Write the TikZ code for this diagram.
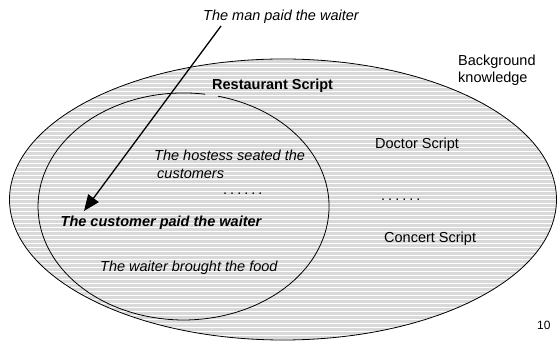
\documentclass[tikz,border=0pt]{standalone}
\usepackage{fontspec}
\setmainfont{Liberation Sans}
\usetikzlibrary{arrows.meta}
\definecolor{stripegray}{HTML}{D9D9D9}
\begin{document}
\begin{tikzpicture}[x=1pt,y=1pt,
  txt/.style={anchor=west,inner sep=0pt,font=\fontsize{14.5}{17}\selectfont},
  dotrow/.style={anchor=base west,inner sep=0pt,font=\fontsize{14.5}{17}\selectfont},
  outline/.style={draw=black,line width=0.8pt},
  connector/.style={draw=black,line width=1.3pt,-{Triangle[length=16pt,width=13pt]}}]
\useasboundingbox (0,0) rectangle (558,345);
% striped background
\begin{scope}
  \clip (283,145.5) ellipse[x radius=273.5,y radius=140.5];
  \fill[stripegray] (0,0) rectangle (558,345);
  \foreach \yy in {1,5,...,345} \draw[white,line width=1pt] (0,\yy) -- (558,\yy);
\end{scope}
% outer ellipse (background knowledge)
\path[outline] (283,145.5) ellipse[x radius=273.5,y radius=140.5];
% inner ellipse (restaurant script) with a gap near its label
\path[outline] (218,248.8) arc[start angle=76.3,end angle=-278.5,x radius=145.5,y radius=113.5];
% texts
\node[txt,font=\fontsize{14.5}{17}\selectfont\itshape] (man) at (203,328) {The man paid the waiter};
\node[txt,align=left] (bg) at (458,274.5) {Background\\knowledge};
\node[txt,font=\fontsize{14.5}{17}\selectfont\bfseries] (rest) at (212,259) {Restaurant Script};
\node[txt] (doctor) at (375,200) {Doctor Script};
\node[txt,align=left,font=\fontsize{14.5}{18}\selectfont\itshape] (hostess) at (154,181) {The hostess seated the\\\hspace{3pt}customers};
\node[dotrow] (idots) at (223,150.5) {.\kern3pt.\kern3pt.\kern3pt.\kern3pt.\kern3pt.};
\node[dotrow] (odots) at (381,144.5) {.\kern3pt.\kern3pt.\kern3pt.\kern3pt.\kern3pt.};
\node[txt,font=\fontsize{14.5}{17}\selectfont\bfseries\itshape] (cust) at (60.5,122) {The customer paid the waiter};
\node[txt] (concert) at (384,106) {Concert Script};
\node[txt,font=\fontsize{14.5}{17}\selectfont\itshape] (waiter) at (100,77) {The waiter brought the food};
\node[txt,font=\fontsize{12}{14}\selectfont] (page) at (537,20) {10};
% arrow
\coordinate (arrfrom) at (221,319);
\coordinate (arrto) at (84,134);
\path[connector] (arrfrom) -- (arrto);
\end{tikzpicture}
\end{document}
